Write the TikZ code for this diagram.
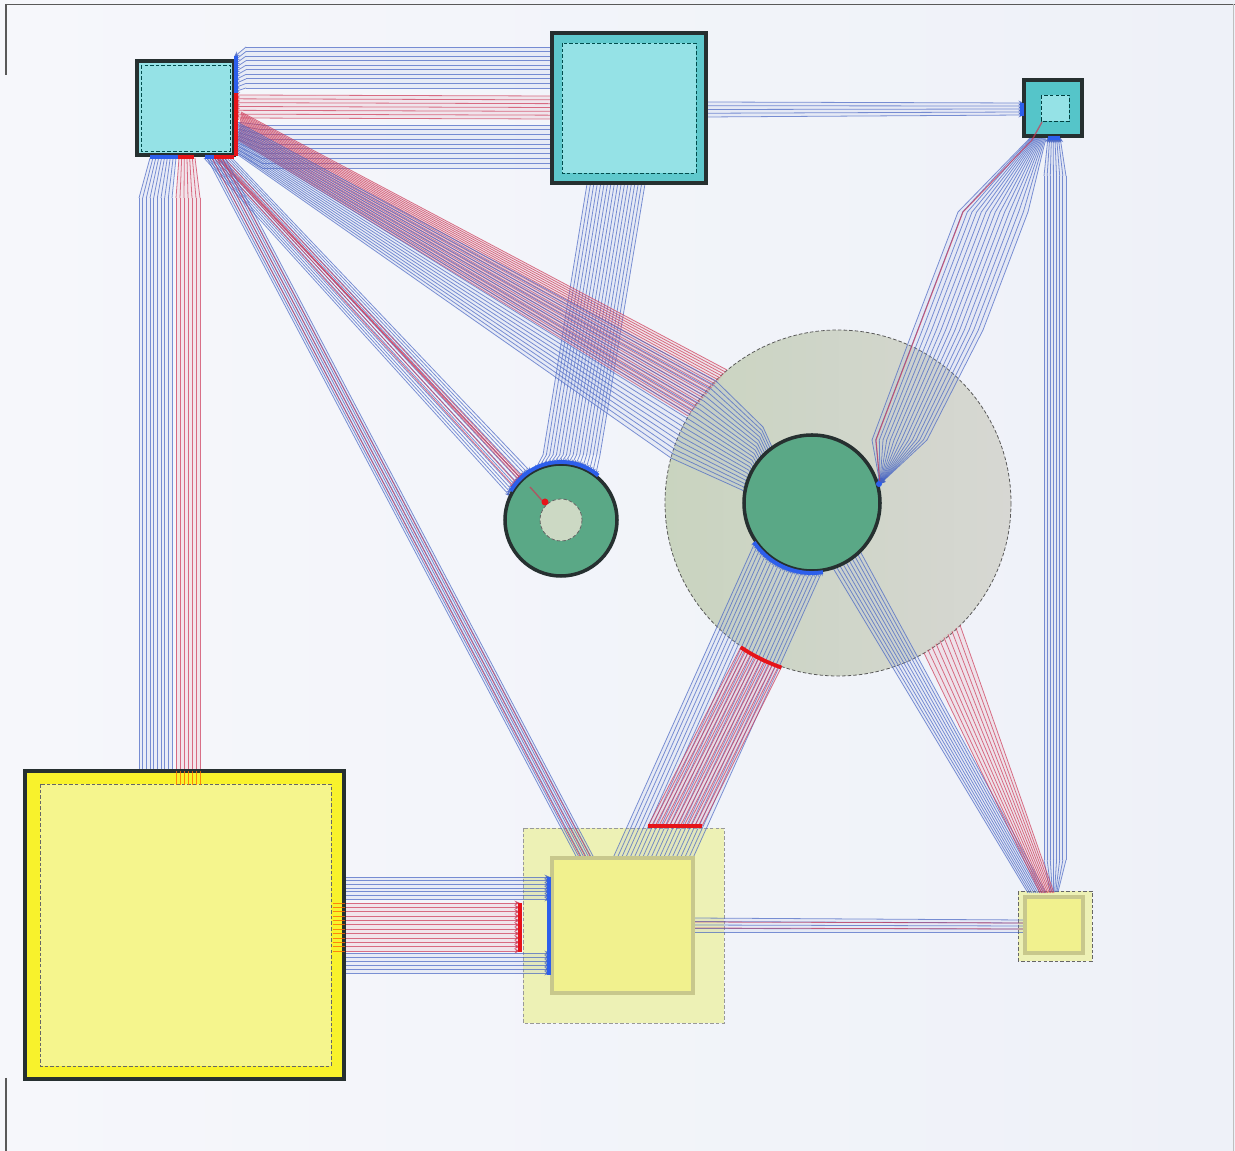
\documentclass[tikz,border=0pt]{standalone}
\usetikzlibrary{calc,arrows.meta}
\definecolor{bgL}{HTML}{F6F7FB}
\definecolor{bgR}{HTML}{EEF1F8}
\definecolor{lb}{RGB}{70,100,195}
\definecolor{lr}{RGB}{205,55,85}
\definecolor{arrblue}{RGB}{45,95,235}
\definecolor{arrred}{RGB}{230,20,25}
\definecolor{nb}{HTML}{263030}
\definecolor{cyA}{HTML}{95E2E6}
\definecolor{cyB}{HTML}{5FC9CD}
\definecolor{cyC}{HTML}{55C5C9}
\definecolor{grn}{HTML}{5AA886}
\definecolor{grnL}{HTML}{CCD9C4}
\definecolor{yelB}{HTML}{F8F22C}
\definecolor{yelI}{HTML}{F5F58D}
\definecolor{yelG}{HTML}{F1F18E}
\definecolor{yelO}{HTML}{EDF1AA}
\definecolor{yelBd}{HTML}{C8C88C}
\definecolor{eoL}{HTML}{C6D2BB}
\definecolor{eoR}{HTML}{D5D5D0}
\tikzset{
 bl/.style={draw=lb, line width=0.45pt, opacity=0.7},
 rl/.style={draw=lr, line width=0.45pt, opacity=0.7},
 ol/.style={draw=orange!85!red, line width=0.4pt, opacity=0.8},
 tip/.style={-{Stealth[length=3.2pt,width=2.8pt]}},
 barb/.style={draw=arrblue, line width=2.2pt},
 barr/.style={draw=arrred, line width=2.2pt},
 bandf/.style={fill=lb!45, opacity=0.16},
 bandr/.style={fill=lr!55, opacity=0.16},
 nobandf/.style={fill=none},
 nodebox/.style={draw=nb, line width=2.2pt},
 dashline/.style={draw=#1, line width=0.45pt, dash pattern=on 2pt off 1.2pt},
}
% bundle of parallel lines: [band style] last index, style, start1, start2, end1, end2
\newcommand\bund[7][bandf]{%
  \path[#1] (#4)--(#5)--(#7)--(#6)--cycle;
  \foreach \i in {0,...,#2}{%
    \pgfmathsetmacro\bt{\i/#2}%
    \draw[#3] ($(#4)!\bt!(#5)$) -- ($(#6)!\bt!(#7)$);}}
% bundle ending on an arc: last, style, start1, start2, centre, radius, angle1, angle2
\newcommand\bundarc[8]{%
  \foreach \i in {0,...,#1}{%
    \pgfmathsetmacro\bt{\i/#1}%
    \pgfmathsetmacro\ba{#7+(#8-#7)*\i/#1}%
    \draw[#2] ($(#3)!\bt!(#4)$) -- ($(#5)+(\ba:#6)$);}}
\begin{document}
\begin{tikzpicture}[x=0.02cm,y=-0.02cm]
\useasboundingbox (0,0) rectangle (1235,1151);
\shade[left color=bgL, right color=bgR] (0,0) rectangle (1235,1151);
\draw[gray!70!black, line width=0.6pt] (6,4.5) -- (1235,4.5);
\draw[gray!70!black, line width=0.6pt] (6,4) -- (6,75) (6,1078) -- (6,1151);
\draw[gray!50, line width=0.5pt] (1233,4) -- (1233,1151);

% translucent containers
\shade[left color=eoL, right color=eoR, opacity=0.92] (838,503) circle[radius=173];
\draw[dashline=gray!70!black] (838,503) circle[radius=173];
\fill[yelO, opacity=0.85] (523,828) rectangle (724,1023);
\draw[dashline=gray!80] (523,828) rectangle (724,1023);
\fill[yelO, opacity=0.85] (1018,891) rectangle (1092,961);
\draw[dashline=gray!80!black] (1018,891) rectangle (1092,961);

% ---- bundles ----
% A <-> B
\bund{9}{bl}{552,47}{552,88}{246,47}{246,88}
\bund{9}{bl,tip}{246,47}{246,88}{234,57}{234,92}
\bund[bandr]{6}{rl,tip}{552,96}{552,119}{234,95}{234,118}
\bund{9}{bl}{552,125}{552,168}{262,125}{262,168}
\bund{9}{bl}{262,125}{262,168}{236,122}{236,152}
% B -> C
\bund{4}{bl,tip}{706,102}{706,117}{1024,103}{1024,115}
% B -> D
\bund{17}{bl}{587,184}{645,184}{543,455}{600,455}
\bundarc{17}{bl,tip}{543,455}{600,455}{561,520}{56}{-118}{-52}
% A -> D
\bundarc{11}{bl,tip}{204,158}{232,158}{561,520}{56}{-155}{-122}
\bundarc{3}{rl,tip}{214,158}{224,158}{561,520}{56}{-145}{-132}
\draw[rl, line width=0.8pt] (218,158) -- (546,505);
% A -> G
\bund{7}{bl}{207,158}{225,158}{577,858}{594,858}
\bund[nobandf]{2}{rl}{212,158}{222,158}{581,858}{591,858}
% A -> E
\bund[bandr]{23}{rl}{241,112}{238,140}{727,370}{688,416}
\bund{19}{bl}{237,122}{234,152}{716,381}{671,458}
\bund{19}{bl}{716,381}{671,458}{763,427}{742,490}
\bund{19}{bl}{763,427}{742,490}{772,447}{746,493}
% A -> F
\bund{9}{bl}{150,158}{176,158}{139,198}{172,198}
\bund{9}{bl}{139,198}{172,198}{139,771}{172,771}
\bund[bandr]{6}{rl}{179,158}{195,158}{176,198}{200,198}
\bund[bandr]{6}{rl}{176,198}{200,198}{176,785}{200,785}
% F -> G
\bund{6}{bl,tip}{343,877}{343,899}{550,877}{550,899}
\bund[bandr]{11}{rl,tip}{333,903}{333,951}{520,903}{520,951}
\bund{5}{bl,tip}{343,953}{343,973}{550,953}{550,973}
% G -> H
\bund{4}{bl}{693,918}{693,932}{1025,920}{1025,932}
\bund[nobandf]{1}{rl}{693,922}{693,928}{1025,923}{1025,929}
% H -> C
\bund{7}{bl}{1050,892}{1058,892}{1044,860}{1066,860}
\bund{7}{bl}{1044,860}{1066,860}{1044,176}{1066,176}
\bund{7}{bl,tip}{1044,176}{1066,176}{1048,137}{1060,137}
% C -> E
\bund{15}{bl}{1030,138}{1046,138}{958,212}{1028,212}
\bund{15}{bl}{958,212}{1028,212}{913,330}{983,330}
\bund{15}{bl}{913,330}{983,330}{872,440}{927,440}
\bund{15}{bl,tip}{872,440}{927,440}{880,484}{880,484}
\draw[rl, line width=0.6pt] (1032,140) -- (963,212) -- (918,330) -- (876,440) -- (880,484);
% E -> H
\bund{9}{bl}{833,568}{860,551}{1028,893}{1046,893}
\bund[bandr]{9}{rl}{924,653}{960,625}{1040,893}{1054,893}
% E -> G
\path[bandf] (613,858) -- (755,541) -- (822,570) -- (693,858) -- cycle;
\bundarc{19}{bl,tip}{613,858}{693,858}{812,503}{68}{146}{81}
\path[bandr] (648,826) -- (741,646) -- (782,667) -- (702,826) -- cycle;
\bundarc{15}{rl}{648,826}{702,826}{838,503}{173}{124}{109}

% ---- solid nodes ----
% A
\fill[cyA] (137,61) rectangle (234,155);
\draw[dashline=teal!60!black] (141,65) rectangle (230,151);
\draw[nodebox] (137,61) rectangle (234,155);
% B
\fill[cyB] (552,33) rectangle (706,183);
\fill[cyA] (562,43) rectangle (696,173);
\draw[dashline=teal!60!black] (562,43) rectangle (696,173);
\draw[nodebox] (552,33) rectangle (706,183);
% C
\fill[cyC] (1024,80) rectangle (1082,136);
\fill[cyA] (1041,95) rectangle (1069,121);
\draw[dashline=teal!50!black] (1041,95) rectangle (1069,121);
\draw[nodebox] (1024,80) rectangle (1082,136);
\draw[rl, line width=0.8pt] (1042,122) -- (1032,140);
% D
\fill[grn] (561,520) circle[radius=56];
\draw[nodebox, line width=2pt] (561,520) circle[radius=56];
\fill[grnL] (561,520) circle[radius=21];
\draw[dashline=gray!80!black] (561,520) circle[radius=21];
\draw[rl, line width=0.8pt] (530,487) -- (546,505);
\fill[arrred] (545,502) circle[radius=3.5];
% E inner
\fill[grn] (812,503) circle[radius=68];
\draw[nodebox, line width=2pt] (812,503) circle[radius=68];
% F
\fill[yelB] (25,771) rectangle (344,1079);
\fill[yelI] (40,784) rectangle (331,1066);
\draw[dashline=gray!80!black] (40,784) rectangle (331,1066);
\draw[nodebox] (25,771) rectangle (344,1079);
\bund[nobandf]{6}{ol}{176,771}{200,771}{176,785}{200,785}
\bund[nobandf]{11}{ol}{333,903}{333,951}{345,903}{345,951}
% G inner
\fill[yelG] (552,858) rectangle (693,993);
\draw[yelBd, line width=2pt] (552,858) rectangle (693,993);
% H inner
\fill[yelG] (1025,897) rectangle (1083,953);
\draw[yelBd, line width=2pt] (1025,897) rectangle (1083,953);

% ---- arrow bars ----
\draw[barb] (236,56) -- (236,93);
\draw[barr] (236,93) -- (236,156);
\draw[barb] (150,157) -- (178,157);
\draw[barr] (178,157) -- (194,157);
\draw[barb] (205,157) -- (214,157);
\draw[barr] (214,157) -- (234,157);
\draw[barb] (1022,103) -- (1022,116);
\draw[barb] (1048,138) -- (1060,138);
\draw[barb] plot[domain=-150:-50, samples=25] ({561+58*cos(\x)},{520+58*sin(\x)});
\draw[barb] plot[domain=81:146, samples=25] ({812+70*cos(\x)},{503+70*sin(\x)});
\fill[arrblue] (879,484) circle[radius=3];
\draw[barr] plot[domain=109:124, samples=10] ({838+174*cos(\x)},{503+174*sin(\x)});
\draw[barr] (648,826) -- (702,826);
\draw[barb] (549,877) -- (549,975);
\draw[barr] (520,903) -- (520,952);
\end{tikzpicture}
\end{document}
